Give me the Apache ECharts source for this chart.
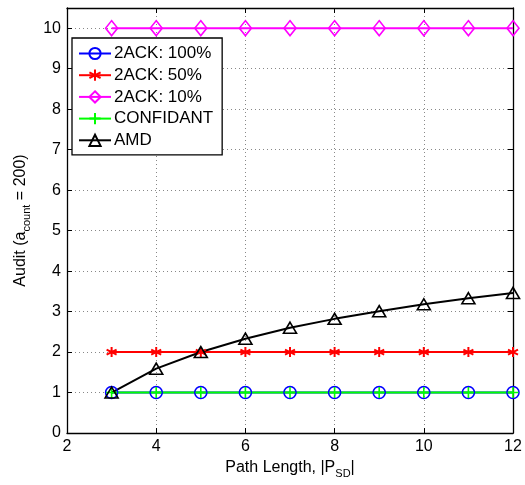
<!DOCTYPE html>
<html><head><meta charset="utf-8">
<script src="https://cdn.jsdelivr.net/npm/echarts@6/dist/echarts.min.js"></script>
<style>html,body{margin:0;padding:0;background:#fff}#c{width:525px;height:485px}</style>
</head><body><div id="c"></div>
<script>
const pathLengths = [3, 4, 5, 6, 7, 8, 9, 10, 11, 12];
const ack100 = [1, 1, 1, 1, 1, 1, 1, 1, 1, 1];
const ack50 = [2, 2, 2, 2, 2, 2, 2, 2, 2, 2];
const ack10 = [10, 10, 10, 10, 10, 10, 10, 10, 10, 10];
const confidant = [1, 1, 1, 1, 1, 1, 1, 1, 1, 1];
const amd = [1, 1.59, 2, 2.33, 2.6, 2.82, 3.01, 3.18, 3.33, 3.46];
const seriesNames = ['2ACK: 100%', '2ACK: 50%', '2ACK: 10%', 'CONFIDANT', 'AMD'];

const FONT = '"Liberation Sans", Arial, Helvetica, sans-serif';
const pair = arr => pathLengths.map((x, i) => [x, arr[i]]);
const ASTERISK = 'path://M5,0L5,10M0.7,2.5L9.3,7.5M9.3,2.5L0.7,7.5';
const PLUS = 'path://M5,0L5,10M0,5L10,5';
const T = 'rgba(0,0,0,0)';

function mk(name, data, color, symbol, size, bw) {
  return {
    name, type: 'line', data: pair(data), symbol, symbolSize: size,
    lineStyle: { color, width: 2 },
    itemStyle: { color: T, borderColor: color, borderWidth: bw || 1.6 },
    emphasis: { disabled: true }, z: 2
  };
}

const chart = echarts.init(document.getElementById('c'), null, { renderer: 'canvas' });
const axisLbl = { color: '#000', fontSize: 16, fontFamily: FONT };
chart.setOption({
  animation: false,
  backgroundColor: '#fff',
  grid: { left: 67, right: 12, top: 8, bottom: 52, show: false },
  xAxis: [{
    type: 'value', min: 2, max: 12, interval: 2,
    axisLine: { show: true, lineStyle: { color: '#000', width: 1.3 } },
    axisTick: { show: true, inside: true, length: 5, lineStyle: { color: '#000' } },
    axisLabel: Object.assign({ margin: 6 }, axisLbl),
    splitLine: { show: true, lineStyle: { color: '#888', type: [1, 3], width: 1 } },
    name: '{a|Path Length, |P}{s|SD}{a||}',
    nameLocation: 'middle', nameGap: 22,
    nameTextStyle: { rich: {
      a: { fontSize: 16, fontFamily: FONT, color: '#000', lineHeight: 20, verticalAlign: 'middle' },
      s: { fontSize: 11, fontFamily: FONT, color: '#000', lineHeight: 24, verticalAlign: 'bottom' } } }
  }, {
    type: 'value', position: 'top', min: 2, max: 12, interval: 2,
    axisLine: { show: true, onZero: false, lineStyle: { color: '#000', width: 1.3 } },
    axisTick: { show: true, inside: true, length: 5, lineStyle: { color: '#000' } },
    axisLabel: { show: false }, splitLine: { show: false }
  }],
  yAxis: [{
    type: 'value', min: 0, max: 10.5, interval: 1,
    axisLine: { show: true, lineStyle: { color: '#000', width: 1.3 } },
    axisTick: { show: true, inside: true, length: 5, lineStyle: { color: '#000' } },
    axisLabel: Object.assign({ margin: 6, showMaxLabel: false }, axisLbl),
    splitLine: { show: true, lineStyle: { color: '#888', type: [1, 3], width: 1 } },
    name: '{a|Audit (a}{s|count}{a| = 200)}',
    nameLocation: 'middle', nameGap: 30, nameRotate: 90,
    nameTextStyle: { rich: {
      a: { fontSize: 16, fontFamily: FONT, color: '#000', lineHeight: 20, verticalAlign: 'middle' },
      s: { fontSize: 11, fontFamily: FONT, color: '#000', lineHeight: 24, verticalAlign: 'bottom' } } }
  }, {
    type: 'value', position: 'right', min: 0, max: 10.5, interval: 1,
    axisLine: { show: true, onZero: false, lineStyle: { color: '#000', width: 1.3 } },
    axisTick: { show: true, inside: true, length: 5, lineStyle: { color: '#000' } },
    axisLabel: { show: false }, splitLine: { show: false }
  }],
  legend: {
    show: true, orient: 'vertical', left: 72, top: 38,
    data: seriesNames,
    backgroundColor: '#fff', borderColor: '#000', borderWidth: 1.3, borderRadius: 0,
    padding: [7, 9, 6, 6], itemGap: 4.7, itemWidth: 32, itemHeight: 14,
    textStyle: { color: '#000', fontSize: 17, fontFamily: FONT, lineHeight: 14, padding: [0, 0, 0, -2] },
    selectedMode: false
  },
  series: [
    mk(seriesNames[0], ack100, '#0000ff', 'circle', 12),
    mk(seriesNames[1], ack50, '#ff0000', ASTERISK, 10, 2),
    mk(seriesNames[2], ack10, '#ff00ff', 'diamond', [12, 15]),
    mk(seriesNames[3], confidant, '#00ff00', PLUS, 11),
    mk(seriesNames[4], amd, '#000000', 'triangle', [13, 11])
  ]
});
</script></body></html>
